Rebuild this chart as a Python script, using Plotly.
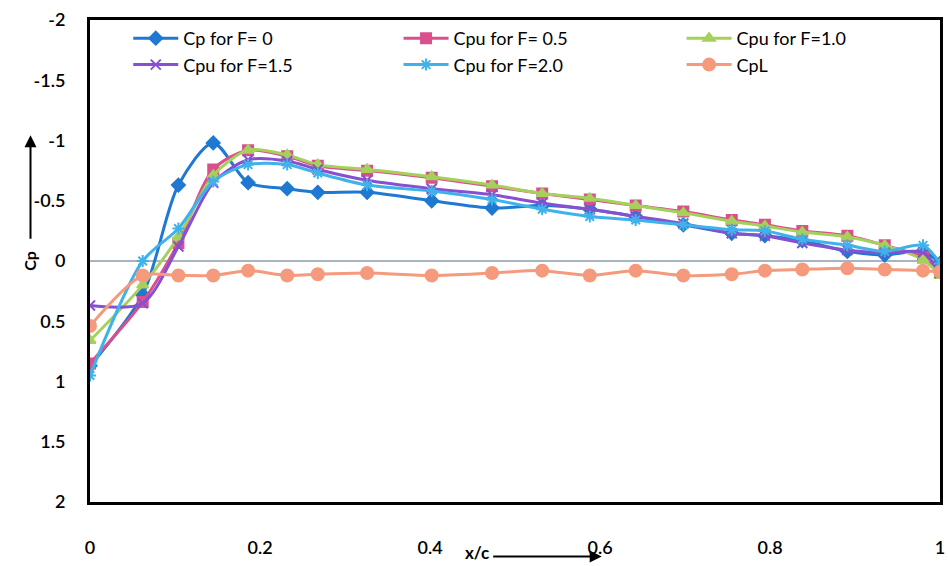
import plotly.graph_objects as go

x_c = [0, 0.062, 0.104, 0.145, 0.186, 0.232, 0.268, 0.326, 0.402, 0.473, 0.532,
       0.588, 0.642, 0.698, 0.755, 0.794, 0.838, 0.891, 0.935, 0.98, 1.0]

cp_f0 = [0.87, 0.28, -0.63, -0.98, -0.65, -0.60, -0.57, -0.57, -0.50, -0.44, -0.46,
         -0.43, -0.37, -0.30, -0.23, -0.21, -0.17, -0.08, -0.05, -0.08, 0.02]
cpu_f05 = [0.85, 0.34, -0.15, -0.76, -0.92, -0.87, -0.79, -0.75, -0.69, -0.62, -0.56,
           -0.51, -0.46, -0.41, -0.34, -0.30, -0.25, -0.21, -0.13, -0.03, 0.10]
cpu_f10 = [0.66, 0.20, -0.20, -0.71, -0.92, -0.88, -0.80, -0.76, -0.70, -0.63, -0.56,
           -0.52, -0.46, -0.40, -0.33, -0.29, -0.24, -0.20, -0.13, -0.01, 0.12]
cpu_f15 = [0.37, 0.35, -0.12, -0.65, -0.84, -0.83, -0.76, -0.67, -0.60, -0.55, -0.48,
           -0.43, -0.37, -0.31, -0.23, -0.21, -0.15, -0.09, -0.07, -0.07, 0.10]
cpu_f20 = [0.95, 0.00, -0.27, -0.66, -0.80, -0.80, -0.73, -0.63, -0.58, -0.51, -0.43,
           -0.37, -0.34, -0.30, -0.26, -0.25, -0.18, -0.13, -0.08, -0.13, 0.02]
cpl = [0.54, 0.12, 0.12, 0.12, 0.08, 0.12, 0.11, 0.10, 0.12, 0.10, 0.08,
       0.12, 0.08, 0.12, 0.11, 0.08, 0.07, 0.06, 0.07, 0.08, 0.09]

# (name, values, colour, marker, size, legend column)
series = [
    ("Cp for F= 0", cp_f0, "#1f78d1", "diamond", 10, "legend"),
    ("Cpu for F= 0.5", cpu_f05, "#d9508c", "square", 10, "legend2"),
    ("Cpu for F=1.0", cpu_f10, "#a6d05c", "triangle-up", 10, "legend3"),
    ("Cpu for F=1.5", cpu_f15, "#8650d0", "x-thin-open", 10, "legend"),
    ("Cpu for F=2.0", cpu_f20, "#3fb2ea", "asterisk-open", 10, "legend2"),
    ("CpL", cpl, "#f59a7c", "circle", 12, "legend3"),
]

FONT = "Lato"
fig = go.Figure()
for name, ys, col, sym, sz, lg in series:
    fig.add_trace(go.Scatter(
        x=x_c, y=ys, name=name, mode="lines+markers", legend=lg,
        line=dict(color=col, width=3, shape="spline", smoothing=0.8),
        marker=dict(symbol=sym, size=sz, color=col, line=dict(color=col, width=2)),
    ))

leg_common = dict(orientation="v", y=1.0, xanchor="left", yanchor="top",
                  bgcolor="rgba(0,0,0,0)", font=dict(size=18, family=FONT),
                  tracegroupgap=0, itemwidth=45)

fig.update_layout(
    width=948, height=566,
    margin=dict(l=90, r=3, t=20, b=64),
    paper_bgcolor="white", plot_bgcolor="white",
    font=dict(family=FONT, size=17, color="black"),
    showlegend=True,
    legend=dict(x=0.045, **leg_common),
    legend2=dict(x=0.363, **leg_common),
    legend3=dict(x=0.696, **leg_common),
    xaxis=dict(range=[0, 1], tickvals=[0, 0.2, 0.4, 0.6, 0.8, 1],
               ticktext=["0", "0.2", "0.4", "0.6", "0.8", "1"],
               showgrid=False, zeroline=False, showline=True, mirror=True,
               linecolor="black", linewidth=3,
               ticks="outside", ticklen=27, tickcolor="rgba(0,0,0,0)",
               tickfont=dict(size=18, family=FONT, weight=600)),
    yaxis=dict(range=[2, -2], tickvals=[-2, -1.5, -1, -0.5, 0, 0.5, 1, 1.5, 2],
               ticktext=["-2", "-1.5", "-1", "-0.5", "0", "0.5", "1", "1.5", "2"],
               showgrid=False, zeroline=True, zerolinecolor="#a8b4c0", zerolinewidth=1.5,
               showline=True, mirror=True, linecolor="black", linewidth=3,
               ticks="outside", ticklen=18, tickcolor="rgba(0,0,0,0)",
               tickfont=dict(size=18, family=FONT, weight=600)),
)

# y-axis title with upward arrow
fig.add_annotation(xref="paper", yref="paper", x=-0.072, y=0.5, text="<b>Cp</b>",
                   textangle=-90, showarrow=False, font=dict(size=16, family=FONT),
                   xanchor="center", yanchor="middle")
fig.add_annotation(xref="paper", yref="paper", x=-0.07, y=0.761, ax=0, ay=105,
                   text="", showarrow=True,
                   arrowhead=2, arrowsize=1.2, arrowwidth=2, arrowcolor="black")
# x-axis title with right arrow
fig.add_annotation(xref="paper", yref="paper", x=0.455, y=-0.105, text="<b>x/c</b>",
                   showarrow=False, font=dict(size=17, family=FONT),
                   xanchor="center", yanchor="middle")
fig.add_annotation(xref="paper", yref="paper", x=0.602, y=-0.113, ax=-110, ay=0,
                   text="", showarrow=True,
                   arrowhead=2, arrowsize=1.2, arrowwidth=2, arrowcolor="black")

fig.write_html("out.html")
